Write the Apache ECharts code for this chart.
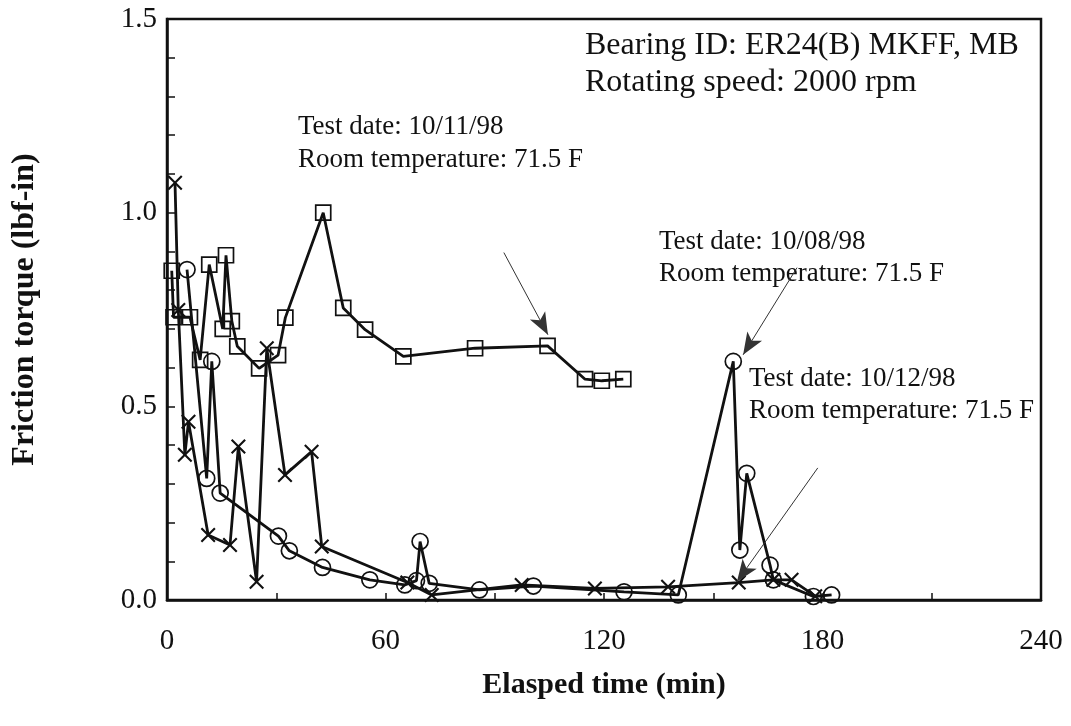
<!DOCTYPE html>
<html>
<head>
<meta charset="utf-8">
<script src="https://cdn.jsdelivr.net/npm/echarts@6/dist/echarts.min.js"></script>
<style>html,body{margin:0;padding:0;background:#fff;}#c{width:1071px;height:726px;}</style>
</head>
<body>
<div id="c"></div>
<script>
// Test 10/11/98 (squares)
const sqX = [1.3, 1.8, 6.3, 9.1, 11.6, 15.3, 16.2, 17.8, 19.3, 25.3, 30.5, 32.5, 42.9, 48.4, 54.4, 64.9, 84.6, 104.5, 114.8, 119.4, 125.3];
const sqY = [0.85, 0.73, 0.73, 0.62, 0.866, 0.70, 0.89, 0.72, 0.655, 0.598, 0.632, 0.729, 1.00, 0.754, 0.698, 0.629, 0.650, 0.656, 0.570, 0.566, 0.570];
// Test 10/08/98 (circles)
const ciX = [5.5, 10.9, 12.3, 14.6, 30.6, 33.6, 42.7, 55.7, 65.3, 68.5, 69.5, 72.0, 85.8, 100.6, 125.5, 140.4, 155.5, 157.3, 159.2, 165.6, 166.5, 177.5, 182.5];
const ciY = [0.853, 0.314, 0.616, 0.276, 0.165, 0.127, 0.084, 0.052, 0.039, 0.05, 0.151, 0.043, 0.026, 0.036, 0.021, 0.013, 0.616, 0.129, 0.327, 0.09, 0.052, 0.009, 0.013];
// Test 10/12/98 (crosses)
const crX = [2.2, 3.1, 4.9, 5.9, 11.3, 17.3, 19.6, 24.6, 27.4, 32.4, 39.7, 42.5, 66.0, 72.7, 97.4, 117.5, 137.6, 157.0, 166.5, 171.5, 178.0];
const crY = [1.077, 0.749, 0.375, 0.46, 0.168, 0.142, 0.396, 0.047, 0.65, 0.323, 0.383, 0.138, 0.045, 0.013, 0.039, 0.030, 0.034, 0.045, 0.052, 0.052, 0.01];

const xTickLabels = ['0', '60', '120', '180', '240'];
const yTickLabels = ['0.0', '0.5', '1.0', '1.5'];

// annotation arrows [x0, y0, x1, y1] in data units
const arrow1110 = [92.5, 0.897, 104.6, 0.685];
const arrow1008 = [173.0, 0.858, 158.2, 0.633];
const arrow1012 = [178.7, 0.341, 156.5, 0.047];

const zip = (xs, ys) => xs.map((x, i) => [x, ys[i]]);
const FONT = '"Liberation Serif", "Times New Roman", serif';
const crossPath = 'path://M0,1L1,0L5,4L9,0L10,1L6,5L10,9L9,10L5,6L1,10L0,9L4,5Z';

function arrowLine(a) {
  return [{ coord: [a[0], a[1]], symbol: 'none' }, { coord: [a[2], a[3]], symbol: 'arrow', symbolSize: [13, 22] }];
}

const chart = echarts.init(document.getElementById('c'));
const lineBase = {
  type: 'line',
  lineStyle: { color: '#111', width: 2.8 },
  itemStyle: { color: 'transparent', borderColor: '#111', borderWidth: 1.7 },
  symbolKeepAspect: true,
  animation: false,
  z: 3
};
chart.setOption({
  backgroundColor: '#fff',
  animation: false,
  grid: { left: 167, right: 30, top: 19, bottom: 126, show: true, borderColor: '#111', borderWidth: 2.5, backgroundColor: 'transparent' },
  xAxis: {
    type: 'value', min: 0, max: 240, interval: 30,
    name: 'Elasped time (min)', nameLocation: 'middle', nameGap: 70,
    nameTextStyle: { fontFamily: FONT, fontWeight: 'bold', fontSize: 30, color: '#111' },
    axisLine: { lineStyle: { color: '#111', width: 2.5 } },
    axisTick: { inside: true, length: 7, lineStyle: { color: '#111', width: 1.5 } },
    splitLine: { show: false },
    axisLabel: {
      margin: 27, fontFamily: FONT, fontSize: 29, color: '#111',
      formatter: v => (v % 60 === 0 ? xTickLabels[v / 60] : '')
    }
  },
  yAxis: {
    type: 'value', min: 0, max: 1.5, interval: 0.1,
    name: 'Friction torque (lbf-in)', nameLocation: 'middle', nameGap: 126,
    nameTextStyle: { fontFamily: FONT, fontWeight: 'bold', fontSize: 32, color: '#111' },
    axisLine: { lineStyle: { color: '#111', width: 2.5 } },
    axisTick: { inside: true, length: 8, lineStyle: { color: '#111', width: 1.5 } },
    splitLine: { show: false },
    axisLabel: {
      margin: 10, fontFamily: FONT, fontSize: 29, color: '#111',
      formatter: v => {
        const k = Math.round(v * 10);
        return k % 5 === 0 ? yTickLabels[k / 5] : '';
      }
    }
  },
  series: [
    Object.assign({}, lineBase, {
      name: '10/11/98', data: zip(sqX, sqY), symbol: 'rect', symbolSize: 15,
      markLine: {
        silent: true, animation: false,
        lineStyle: { color: '#333', width: 1, type: 'solid' },
        label: { show: false },
        data: [arrowLine(arrow1110), arrowLine(arrow1008), arrowLine(arrow1012)]
      }
    }),
    Object.assign({}, lineBase, {
      name: '10/08/98', data: zip(ciX, ciY), symbol: 'circle', symbolSize: 16
    }),
    Object.assign({}, lineBase, {
      name: '10/12/98', data: zip(crX, crY), symbol: crossPath, symbolSize: 15,
      itemStyle: { color: '#111', borderWidth: 0 }
    })
  ],
  graphic: [
    { type: 'text', left: 585, top: 30, style: { text: 'Bearing ID: ER24(B) MKFF, MB', font: '32px ' + FONT, fill: '#111' } },
    { type: 'text', left: 585, top: 67, style: { text: 'Rotating speed: 2000 rpm', font: '32px ' + FONT, fill: '#111' } },
    { type: 'text', left: 298, top: 113, style: { text: 'Test date: 10/11/98', font: '27px ' + FONT, fill: '#111' } },
    { type: 'text', left: 298, top: 146, style: { text: 'Room temperature: 71.5 F', font: '27px ' + FONT, fill: '#111' } },
    { type: 'text', left: 659, top: 228, style: { text: 'Test date: 10/08/98', font: '27px ' + FONT, fill: '#111' } },
    { type: 'text', left: 659, top: 260, style: { text: 'Room temperature: 71.5 F', font: '27px ' + FONT, fill: '#111' } },
    { type: 'text', left: 749, top: 365, style: { text: 'Test date: 10/12/98', font: '27px ' + FONT, fill: '#111' } },
    { type: 'text', left: 749, top: 397, style: { text: 'Room temperature: 71.5 F', font: '27px ' + FONT, fill: '#111' } }
  ]
});
</script>
</body>
</html>
